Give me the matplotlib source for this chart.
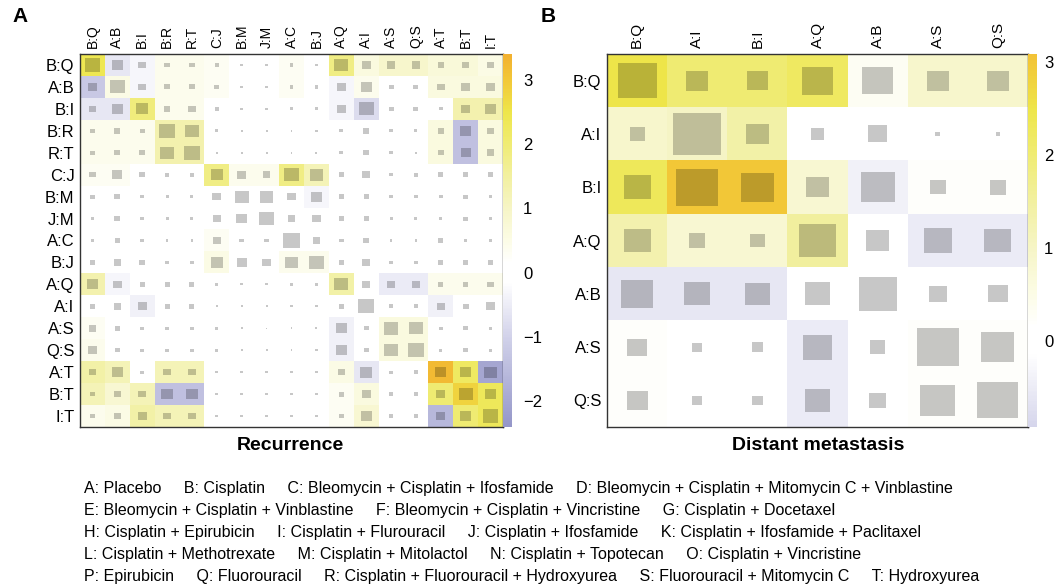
import numpy as np
import matplotlib
matplotlib.use("Agg")
import matplotlib.pyplot as plt
from matplotlib.colors import LinearSegmentedColormap, ListedColormap, Normalize
from matplotlib.patches import Rectangle
from matplotlib.cm import ScalarMappable

plt.rcParams['font.family'] = ['Liberation Sans', 'DejaVu Sans']

# ---- data ----
rec_labels = ["B:Q", "A:B", "B:I", "B:R", "R:T", "C:J", "B:M", "J:M", "A:C",
              "B:J", "A:Q", "A:I", "A:S", "Q:S", "A:T", "B:T", "I:T"]

# background colour value of each cell (Recurrence)
rec_color = [
    [2.4, -0.6, -0.3, 0.4, 0.4, 0.3, 0, 0, 0.3, 0, 1.8, 0.6, 0.9, 0.9, 0.7, 0.7, 0.5],
    [-1.2, 0.5, -0.3, 0.4, 0.4, 0.3, 0, 0, 0.3, 0, -0.3, 0.4, 0, 0, 0.6, 0.6, 0.6],
    [-0.6, -0.6, 1.9, 0.4, 0.4, 0, 0, 0, 0, 0, -0.3, -0.8, 0, 0, 0, 1.3, 1.3],
    [0.4, 0.4, 0.4, 1.3, 1.3, 0, 0, 0, 0, 0, 0, 0, 0, 0, 0.6, -1.4, 0.6],
    [0.4, 0.4, 0.4, 1.3, 1.3, 0, 0, 0, 0, 0, 0, 0, 0, 0, 0.6, -1.4, 0.6],
    [0.3, 0.3, 0, 0, 0, 1.8, 0.4, 0.4, 1.8, 1.2, 0, 0, 0, 0, 0, 0, 0],
    [0, 0, 0, 0, 0, 0, 0, 0, 0, -0.3, 0, 0, 0, 0, 0, 0, 0],
    [0, 0, 0, 0, 0, 0, 0, 0, 0, 0, 0, 0, 0, 0, 0, 0, 0],
    [0, 0, 0, 0, 0, 0.3, 0, 0, 0, 0, 0, 0, 0, 0, 0, 0, 0],
    [0, 0, 0, 0, 0, 0.5, 0, 0, 0.4, 0.4, 0, 0, 0, 0, 0, 0, 0],
    [1.3, -0.3, 0, 0, 0, 0, 0, 0, 0, 0, 1.4, 0, -0.5, -0.5, 0.4, 0.4, 0.4],
    [0, 0, -0.4, 0, 0, 0, 0, 0, 0, 0, 0, 0, 0, 0, -0.4, 0, 0],
    [0.3, 0, 0, 0, 0, 0, 0, 0, 0, 0, -0.4, 0, 0.6, 0.6, 0, 0, 0],
    [0.4, 0, 0, 0, 0, 0, 0, 0, 0, 0, -0.4, 0, 0.6, 0.6, 0, 0, 0],
    [1.4, 1.2, 0, 1.2, 1.2, 0, 0, 0, 0, 0, 0.5, -0.6, 0, 0, 3.2, 2.2, -2.0],
    [1.2, 0.8, 1.2, -1.4, -1.4, 0, 0, 0, 0, 0, 0.3, 0.6, 0, 0, 2.0, 2.8, 2.3],
    [0.4, 0.5, 1.4, 1.2, 1.2, 0, 0, 0, 0, 0, 0.3, 0.8, 0, 0, -1.6, 2.0, 2.3],
]

# relative side of the grey square in each cell (Recurrence)
rec_size = [
    [0.6, 0.45, 0.3, 0.22, 0.22, 0.15, 0.1, 0.1, 0.15, 0.12, 0.55, 0.35, 0.35, 0.35, 0.25, 0.3, 0.25],
    [0.35, 0.6, 0.3, 0.22, 0.22, 0.2, 0.1, 0.1, 0.15, 0.15, 0.35, 0.45, 0.2, 0.2, 0.3, 0.35, 0.35],
    [0.3, 0.45, 0.5, 0.25, 0.3, 0.18, 0.12, 0.12, 0.15, 0.15, 0.35, 0.6, 0.2, 0.2, 0.15, 0.35, 0.45],
    [0.2, 0.25, 0.2, 0.65, 0.55, 0.12, 0.08, 0.08, 0.08, 0.1, 0.15, 0.25, 0.15, 0.12, 0.25, 0.45, 0.3],
    [0.2, 0.25, 0.25, 0.55, 0.65, 0.1, 0.08, 0.08, 0.08, 0.08, 0.15, 0.25, 0.15, 0.1, 0.25, 0.4, 0.3],
    [0.25, 0.4, 0.22, 0.18, 0.18, 0.5, 0.35, 0.3, 0.6, 0.55, 0.22, 0.3, 0.15, 0.18, 0.2, 0.22, 0.2],
    [0.18, 0.25, 0.15, 0.12, 0.12, 0.35, 0.55, 0.55, 0.35, 0.45, 0.2, 0.2, 0.15, 0.15, 0.15, 0.18, 0.15],
    [0.15, 0.25, 0.15, 0.12, 0.12, 0.3, 0.45, 0.6, 0.3, 0.35, 0.2, 0.2, 0.12, 0.12, 0.12, 0.18, 0.12],
    [0.15, 0.2, 0.15, 0.1, 0.1, 0.3, 0.18, 0.18, 0.7, 0.3, 0.18, 0.22, 0.1, 0.1, 0.2, 0.12, 0.15],
    [0.2, 0.3, 0.22, 0.15, 0.15, 0.5, 0.4, 0.35, 0.5, 0.6, 0.2, 0.3, 0.15, 0.15, 0.2, 0.22, 0.22],
    [0.45, 0.35, 0.2, 0.2, 0.2, 0.12, 0.1, 0.1, 0.12, 0.12, 0.55, 0.3, 0.35, 0.35, 0.2, 0.22, 0.25],
    [0.2, 0.3, 0.35, 0.2, 0.2, 0.1, 0.08, 0.08, 0.1, 0.1, 0.22, 0.65, 0.18, 0.18, 0.3, 0.25, 0.35],
    [0.3, 0.22, 0.15, 0.15, 0.15, 0.12, 0.08, 0.05, 0.08, 0.08, 0.45, 0.2, 0.6, 0.55, 0.15, 0.18, 0.15],
    [0.35, 0.2, 0.15, 0.15, 0.15, 0.12, 0.08, 0.08, 0.08, 0.1, 0.45, 0.2, 0.55, 0.65, 0.12, 0.18, 0.15],
    [0.3, 0.45, 0.15, 0.3, 0.3, 0.12, 0.1, 0.1, 0.12, 0.12, 0.3, 0.5, 0.15, 0.18, 0.45, 0.45, 0.5],
    [0.2, 0.3, 0.3, 0.45, 0.45, 0.12, 0.1, 0.1, 0.12, 0.12, 0.22, 0.35, 0.15, 0.15, 0.35, 0.55, 0.45],
    [0.2, 0.3, 0.35, 0.3, 0.3, 0.12, 0.1, 0.1, 0.12, 0.12, 0.22, 0.45, 0.15, 0.15, 0.35, 0.45, 0.6],
]

met_labels = ["B:Q", "A:I", "B:I", "A:Q", "A:B", "A:S", "Q:S"]

met_color = [
    [2.5, 2.0, 2.0, 2.2, 0.3, 0.9, 0.9],
    [0.9, 1.0, 1.4, 0.15, -0.1, 0, 0],
    [2.3, 3.0, 3.0, 0.8, -0.4, 0.2, 0.2],
    [1.3, 0.8, 0.8, 1.5, 0, -0.5, -0.5],
    [-0.6, -0.6, -0.6, 0, 0, 0, 0],
    [0.2, 0, 0, -0.5, 0, 0.2, 0.2],
    [0.2, 0, 0, -0.5, 0, 0.2, 0.2],
]

met_size = [
    [0.65, 0.37, 0.35, 0.53, 0.52, 0.37, 0.38],
    [0.25, 0.8, 0.38, 0.22, 0.32, 0.08, 0.08],
    [0.45, 0.7, 0.55, 0.37, 0.57, 0.27, 0.28],
    [0.45, 0.27, 0.25, 0.63, 0.38, 0.47, 0.45],
    [0.52, 0.43, 0.42, 0.43, 0.63, 0.3, 0.32],
    [0.32, 0.17, 0.18, 0.47, 0.25, 0.7, 0.55],
    [0.35, 0.17, 0.18, 0.43, 0.28, 0.58, 0.68],
]

rec_ticks = [3, 2, 1, 0, -1, -2]
met_ticks = [3, 2, 1, 0]

legend_lines = [
    ["A: Placebo", "B: Cisplatin", "C: Bleomycin + Cisplatin + Ifosfamide",
     "D: Bleomycin + Cisplatin + Mitomycin C + Vinblastine"],
    ["E: Bleomycin + Cisplatin + Vinblastine", "F: Bleomycin + Cisplatin + Vincristine",
     "G: Cisplatin + Docetaxel"],
    ["H: Cisplatin + Epirubicin", "I: Cisplatin + Flurouracil",
     "J: Cisplatin + Ifosfamide", "K: Cisplatin + Ifosfamide + Paclitaxel"],
    ["L: Cisplatin + Methotrexate", "M: Cisplatin + Mitolactol",
     "N: Cisplatin + Topotecan", "O: Cisplatin + Vincristine"],
    ["P: Epirubicin", "Q: Fluorouracil", "R: Cisplatin + Fluorouracil + Hydroxyurea",
     "S: Fluorouracil + Mitomycin C", "T: Hydroxyurea"],
]
legend_y = [488, 510, 533, 555, 577]

# ---- colour map (same value scale for both panels) ----
vmin, vmax = -2.4, 3.4
anchors = [(-2.4, "#9496c8"), (-1.0, "#d2d2ea"), (-0.15, "#ffffff"), (0.15, "#ffffff"),
           (0.5, "#fcfce6"), (1.0, "#f6f5c6"), (1.5, "#f2f0a0"), (2.0, "#f0ec74"),
           (2.5, "#eee64a"), (3.0, "#f2c838"), (3.4, "#f2b030")]
cmap = LinearSegmentedColormap.from_list(
    "yw_bl", [((v - vmin) / (vmax - vmin), c) for v, c in anchors])
norm = Normalize(vmin, vmax)

W, H = 1057, 588
fig = plt.figure(figsize=(W / 100, H / 100), dpi=100)


def fax(x0, y0, x1, y1):
    return fig.add_axes([x0 / W, 1 - y1 / H, (x1 - x0) / W, (y1 - y0) / H])


def draw_panel(ax, colors, sizes, labels, col_fs):
    c = np.array(colors, dtype=float)
    s = np.array(sizes, dtype=float)
    n = len(labels)
    ax.imshow(c, cmap=cmap, norm=norm, aspect='auto', interpolation='nearest',
              extent=(-0.5, n - 0.5, n - 0.5, -0.5))
    for i in range(n):
        for j in range(n):
            w = s[i, j]
            ax.add_patch(Rectangle((j - w / 2, i - w / 2), w, w,
                                   facecolor=(0, 0, 0, 0.22), edgecolor='none'))
    ax.set_xlim(-0.5, n - 0.5)
    ax.set_ylim(n - 0.5, -0.5)
    ax.set_xticks(range(n))
    ax.set_yticks(range(n))
    ax.xaxis.tick_top()
    ax.set_xticklabels(labels, rotation=90, fontsize=col_fs)
    ax.set_yticklabels(labels, fontsize=12)
    ax.tick_params(length=0, pad=4)
    for sp in ax.spines.values():
        sp.set_color('#333333')
        sp.set_linewidth(1.0)


# ---- panel A ----
axA = fax(80, 54, 503, 427)
draw_panel(axA, rec_color, rec_size, rec_labels, 10)
caxA = fax(503, 54, 512, 427)
cbA = fig.colorbar(ScalarMappable(norm=norm, cmap=cmap), cax=caxA, ticks=rec_ticks)
cbA.outline.set_visible(False)
caxA.tick_params(length=0, pad=8, labelsize=12)

# ---- panel B ----
axB = fax(607, 54, 1028, 427)
draw_panel(axB, met_color, met_size, met_labels, 11)
mlo, mhi = -0.93, 3.09
sub = ListedColormap(cmap(norm(np.linspace(mlo, mhi, 256))))
caxB = fax(1028, 54, 1037, 427)
cbB = fig.colorbar(ScalarMappable(norm=Normalize(mlo, mhi), cmap=sub), cax=caxB, ticks=met_ticks)
cbB.outline.set_visible(False)
caxB.tick_params(length=0, pad=5, labelsize=12)

# ---- titles and panel letters ----
fig.text(290 / W, 1 - 445 / H, "Recurrence", ha='center', va='center',
         fontsize=14, fontweight='bold')
fig.text(818 / W, 1 - 445 / H, "Distant metastasis", ha='center', va='center',
         fontsize=14, fontweight='bold')
fig.text(12 / W, 1 - 17 / H, "A", ha='left', va='center', fontsize=15, fontweight='bold')
fig.text(541 / W, 1 - 17 / H, "B", ha='left', va='center', fontsize=15, fontweight='bold')

# ---- abbreviations: items on a line separated by a few spaces ----
sep = "     "
for y, items in zip(legend_y, legend_lines):
    fig.text(84 / W, 1 - y / H, sep.join(items), ha='left', va='center', fontsize=11.5)

fig.savefig("out.png", dpi=100)
